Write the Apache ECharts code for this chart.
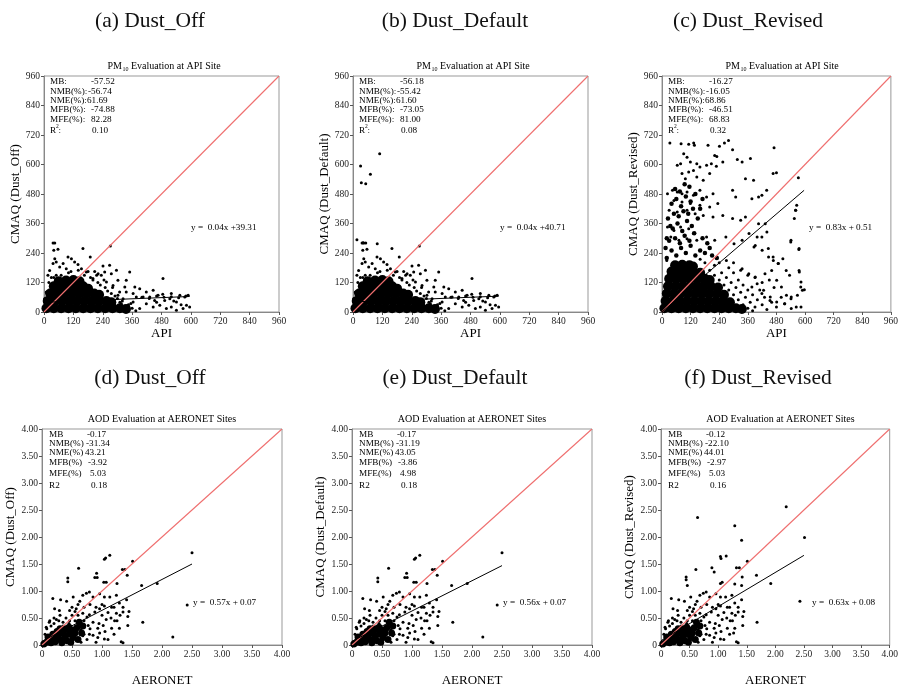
<!DOCTYPE html>
<html>
<head>
<meta charset="utf-8">
<title>Dust evaluation</title>
<script src="https://cdn.jsdelivr.net/npm/echarts@6/dist/echarts.min.js"></script>
<style>
  html, body { margin: 0; padding: 0; background: #fff; }
  #main { width: 901px; height: 688px; }
</style>
</head>
<body>
<div id="main"></div>
<script>
// ---------- data ----------
var pmOffCore = [
  [10,15],[40,15],[70,15],[100,15],[130,15],[160,15],[190,15],[220,15],[250,15],[280,15],[310,15],[335,12],
  [15,45],[45,45],[75,45],[105,45],[135,45],[165,45],[195,45],[225,45],[255,45],[275,40],
  [25,75],[55,75],[85,75],[115,75],[145,75],[175,75],[205,75],[225,70],
  [40,105],[70,105],[100,105],[130,105],[160,105],[180,95],
  [60,125],[90,128],[120,130],[145,125]
];
var pmOffPts = [
  [37,281],[44,281],[40,251],[57,255],[159,258],[271,268],[189,224],[98,224],[112,217],
  [44,217],[37,197],[50,203],[78,197],[125,203],[139,193],[64,183],[91,176],[153,176],
  [173,163],[207,165],[241,187],[268,190],[296,170],[275,156],[234,149],[350,163],[486,136],
  [336,129],[371,102],[330,102],[302,129],[255,122],[391,95],[418,81],[446,88],[466,68],
  [520,75],[555,68],[575,61],[589,68],[582,27],[568,14],[520,20],[541,7],[500,14],[473,27],
  [446,20],[418,34],[391,14],[364,41],[405,61],[452,47],[493,47],[364,75],[336,81],[309,81],
  [323,54],[343,27],[377,61],[432,61],[595,20],[514,54],[541,41],[282,108],[302,68],[316,34],
  [289,27],[10,81],[3,54],[16,149],[23,169],[248,163],[221,156],[200,136],
  [20,120],[30,140],[50,150],[110,165],[165,150],[190,140],[220,120],[250,100],[275,75],
  [300,55],[320,45],[345,30],[360,15],[375,5],[330,5],[10,80],[5,40],[200,130],[230,110],
  [260,85],[290,65],[310,40],[340,10],[355,35],[280,100],[245,130],[215,150],[180,165],
  [140,170],[100,160],[70,150],[40,140],[400,60],[430,55],[460,65],[490,60],[520,62],
  [550,58],[580,65],[460,40],[485,72],[530,45],[560,30]
];
var pmDefaultExtra = [
  [109,644],[31,594],[71,560],[34,526],[52,522],[16,294],[99,278],[41,282],[52,281]
];
var pmRevCore = [
  [10,15],[40,15],[70,15],[100,15],[130,15],[160,15],[190,15],[220,15],[250,15],[280,15],[310,15],[335,12],
  [15,45],[45,45],[75,45],[105,45],[135,45],[165,45],[195,45],[225,45],[255,45],[285,40],
  [20,75],[50,75],[80,75],[110,75],[140,75],[170,75],[200,75],[230,75],[260,70],
  [25,105],[55,105],[85,105],[115,105],[145,105],[175,105],[205,105],[235,100],
  [30,135],[60,135],[90,135],[120,135],[150,135],[180,135],[200,130],
  [40,165],[70,165],[100,165],[130,165],[160,160],
  [55,190],[85,192],[115,190],[130,185]
];
var pmRevMid = [
  [20,220],[40,250],[60,230],[80,260],[100,240],[120,270],[140,230],[30,290],[55,300],[75,280],
  [95,310],[115,290],[135,320],[45,340],[65,360],[85,330],[105,370],[125,350],[25,380],[50,400],
  [70,390],[90,410],[110,400],[130,420],[40,440],[60,460],[80,430],[100,470],[120,450],[55,500],
  [75,490],[95,520],[115,510],[160,250],[180,240],[200,260],[170,300],[190,280],[210,230],[230,220],
  [150,380],[160,420],[140,480],[170,460],[20,300],[35,350],[15,260]
];
var pmRevPts = [
  [33,687],[80,684],[112,682],[133,687],[136,678],[193,678],[241,674],[262,687],[279,698],[221,637],
  [230,633],[296,660],[371,624],[470,668],[316,620],[336,610],[91,644],[105,630],[64,597],[78,603],
  [119,610],[146,603],[159,590],[187,597],[207,603],[228,593],[255,610],[132,576],[112,569],[84,563],
  [98,542],[146,549],[173,536],[200,563],[350,542],[384,536],[466,563],[480,566],[572,546],
  [23,481],[44,495],[64,488],[84,481],[105,488],[132,475],[159,495],[187,468],[214,481],[296,495],
  [309,468],[377,461],[405,468],[419,475],[439,495],[50,454],[84,447],[119,441],[159,434],[200,427],
  [234,441],[30,414],[64,407],[105,414],[139,400],[173,393],[214,386],[255,393],[296,380],[330,373],
  [350,386],[405,359],[561,414],[555,380],[575,258],[541,292],[23,346],[50,332],[78,346],[112,339],
  [132,319],[37,305],[71,292],[105,298],[146,292],[187,305],[221,292],[268,305],[302,278],[336,292],
  [391,271],[419,305],[446,258],[466,224],[507,217],[487,197],[521,169],[535,149],[575,169],[582,102],
  [589,88],[568,68],[541,54],[514,34],[453,47],[419,75],[377,102],[391,142],[432,156],[460,169],
  [364,156],[336,176],[540,285],[560,414],[565,434],[574,254],[576,163],[583,122],[597,91],[542,61],
  [515,34],[481,41],[454,61],[426,88],[399,115],[467,210],[488,197],[447,224],[420,251],[386,264],
  [365,319],[399,305],[433,359],[440,325],[481,129],[501,102],[522,68],[563,20],[542,14],[583,20],
  [200,170],[220,150],[240,130],[260,110],[280,90],[300,70],[320,50],[340,30],[360,15],[380,5],
  [250,160],[270,140],[290,120],[310,100],[330,80],[350,60],[370,40],[390,20],[280,180],[300,160],
  [320,130],[340,110],[360,90],[380,70],[400,50],[420,30],[440,10],[410,90],[430,60],[460,40],
  [480,20],[500,60],[470,100],[450,130],[420,120],[390,140],[360,150],[330,170],[300,200],[270,210],
  [240,200],[220,190],[20,210],[180,200],[160,215]
];
var aodCore = [
  [0.03,0.02],[0.08,0.05],[0.12,0.1],[0.15,0.04],[0.2,0.12],[0.22,0.06],[0.27,0.18],[0.3,0.1],
  [0.33,0.04],[0.35,0.22],[0.38,0.14],[0.42,0.08],[0.45,0.2],[0.5,0.28],[0.52,0.14],[0.18,0.2],
  [0.25,0.25],[0.1,0.15],[0.4,0.3],[0.55,0.22],[0.6,0.1],[0.48,0.05],
  [0.58,0.32],[0.62,0.42],[0.68,0.35],[0.45,0.33],[0.3,0.3],[0.66,0.22]
];
var aodPts = [
  [0.18,0.86],[0.31,0.84],[0.41,0.81],[0.52,0.89],[0.63,0.81],[0.68,0.92],[0.74,0.96],[0.79,0.98],
  [0.85,0.89],[0.96,0.95],[1.04,0.89],[1.13,0.89],[1.24,0.92],[1.41,0.84],[1.29,0.78],[0.21,0.67],
  [0.29,0.64],[0.46,0.64],[0.57,0.67],[0.68,0.59],[0.79,0.56],[0.88,0.61],[0.96,0.67],[1.04,0.72],
  [1.16,0.70],[1.24,0.59],[1.35,0.61],[1.43,0.53],[0.07,0.33],[0.13,0.45],[0.24,0.47],[0.35,0.42],
  [0.46,0.45],[0.63,0.39],[0.77,0.36],[0.85,0.42],[0.93,0.31],[1.02,0.36],[1.07,0.47],[1.16,0.31],
  [1.21,0.45],[1.29,0.31],[0.79,0.20],[0.93,0.14],[1.04,0.11],[0.96,0.22],[0.68,0.17],[0.57,0.22],
  [0.05,0.2],[0.08,0.3],[0.15,0.35],[0.2,0.4],[0.28,0.45],[0.35,0.35],[0.45,0.4],[0.55,0.45],
  [0.6,0.35],[0.65,0.28],[0.7,0.2],[0.75,0.1],[0.65,0.05],[0.8,0.3],[0.85,0.18],[0.9,0.05],
  [0.7,0.45],[0.75,0.52],[0.6,0.55],[0.5,0.55],[0.4,0.5],[0.3,0.55],[0.2,0.5],[0.12,0.42],
  [0.95,0.4],[1.0,0.55],[1.1,0.6],[1.2,0.7],[1.0,0.75],[0.9,0.7],[0.8,0.75],[0.7,0.7],
  [0.6,0.75],[0.5,0.7],[0.55,0.62],[1.05,0.25],[1.15,0.5],[1.25,0.45],[1.35,0.7],[1.45,0.62],
  [1.3,0.55],[1.2,0.2],[1.1,0.1],[1.68,0.42],[1.43,0.36],[1.35,0.04],[1.32,0.06]
];
var aodOffOut = [
  [1.13,1.66],[1.04,1.59],[1.06,1.61],[1.51,1.55],[0.61,1.42],[0.43,1.24],[0.43,1.17],[0.91,1.33],
  [0.88,1.25],[0.92,1.25],[1.34,1.40],[1.38,1.40],[1.42,1.29],[1.03,1.16],[1.07,1.16],[1.25,1.14],
  [1.66,1.10],[1.92,1.14],[2.18,0.15],[2.50,1.71],[2.42,0.74]
];
var aodRevOut = [
  [2.19,2.56],[0.64,2.36],[1.29,2.21],[1.41,1.94],[2.51,1.99],[1.92,1.14],[2.43,0.81],[1.67,1.29],
  [1.51,1.55],[1.04,1.64],[1.05,1.60],[1.14,1.65],[0.89,1.43],[0.93,1.35],[0.44,1.26],[0.44,1.21],
  [0.46,1.10],[0.61,1.40],[1.32,1.43],[1.37,1.43],[1.42,1.26],[1.29,1.13],[1.41,1.10],[1.07,1.16],
  [1.04,1.14],[1.27,0.22]
];
var fitLines = [
  [[0,39.3],[595,63.1]],
  [[0,40.7],[595,64.5]],
  [[0,0.5],[596,495]],
  [[0,0.07],[2.5,1.50]],
  [[0,0.07],[2.5,1.47]],
  [[0,0.08],[2.5,1.66]]
];
var captions = ['(a) Dust_Off', '(b) Dust_Default', '(c) Dust_Revised',
                '(d) Dust_Off', '(e) Dust_Default', '(f) Dust_Revised'];
var yNames = ['CMAQ (Dust_Off)', 'CMAQ (Dust_Default)', 'CMAQ (Dust_Revised)',
              'CMAQ (Dust_Off)', 'CMAQ (Dust_Default)', 'CMAQ (Dust_Revised)'];
var fitText = ['y =  0.04x +39.31', 'y =  0.04x +40.71', 'y =  0.83x + 0.51',
               'y =  0.57x + 0.07', 'y =  0.56x + 0.07', 'y =  0.63x + 0.08'];
var pmStatLabels = ['MB:', 'NMB(%):', 'NME(%):', 'MFB(%):', 'MFE(%):', 'R :'];
var aodStatLabels = ['MB', 'NMB(%)', 'NME(%)', 'MFB(%)', 'MFE(%)', 'R2'];
var statValues = [
  ['-57.52', '-56.74', '61.69', '-74.88', '82.28', '0.10'],
  ['-56.18', '-55.42', '61.60', '-73.05', '81.00', '0.08'],
  ['-16.27', '-16.05', '68.86', '-46.51', '68.83', '0.32'],
  ['-0.17', '-31.34', '43.21', '-3.92', '5.03', '0.18'],
  ['-0.17', '-31.19', '43.05', '-3.86', '4.98', '0.18'],
  ['-0.12', '-22.10', '44.01', '-2.97', '5.03', '0.16']
];

// ---------- layout ----------
var serif = '"Liberation Serif", "Times New Roman", serif';
var grids = [
  {left: 44, top: 76, width: 235, height: 236},
  {left: 353, top: 76, width: 235, height: 236},
  {left: 662, top: 76, width: 235, height: 236},
  {left: 42, top: 429, width: 240, height: 239},
  {left: 352, top: 429, width: 240, height: 239},
  {left: 661, top: 429, width: 239, height: 239}
];
var captionX = [150, 455, 748, 150, 455, 758];

function axis(i, isX) {
  var pm = i < 3;
  return {
    gridIndex: i,
    type: 'value',
    min: 0,
    max: pm ? 960 : 4,
    interval: pm ? 120 : 0.5,
    name: isX ? (pm ? 'API' : 'AERONET') : yNames[i],
    nameLocation: 'middle',
    nameGap: isX ? (pm ? 12 : 29) : (pm ? 20 : 19),
    nameTextStyle: {fontFamily: serif, fontSize: 13, color: '#000'},
    axisLine: {show: true, lineStyle: {color: '#888', width: 1}},
    axisTick: {show: true, length: 3, lineStyle: {color: '#555'}},
    splitLine: {show: false},
    axisLabel: {
      fontFamily: serif, fontSize: 9.5, color: '#222', margin: 4,
      formatter: pm ? '{value}' : function (v) { return v === 0 ? '0' : Number(v).toFixed(2); }
    }
  };
}

function dots(i, data, size) {
  return {
    type: 'scatter', xAxisIndex: i, yAxisIndex: i, data: data,
    symbolSize: size, itemStyle: {color: '#000', opacity: 1}, silent: true
  };
}

function buildOption() {
  var gridOpts = [], xAxes = [], yAxes = [], series = [], graphics = [];
  var fs = '9.2px ' + serif;
  for (var i = 0; i < 6; i++) {
    var pm = i < 3;
    var g = grids[i];
    var lim = pm ? 960 : 4;
    gridOpts.push({left: g.left, top: g.top, width: g.width, height: g.height,
                   show: true, borderColor: '#999', borderWidth: 1});
    xAxes.push(axis(i, true));
    yAxes.push(axis(i, false));

    var core, pts;
    if (i === 0) { core = pmOffCore; pts = pmOffPts; }
    else if (i === 1) { core = pmOffCore; pts = pmOffPts.concat(pmDefaultExtra); }
    else if (i === 2) { core = pmRevCore; pts = pmRevPts; }
    else if (i === 5) { core = aodCore; pts = aodPts.concat(aodRevOut); }
    else { core = aodCore; pts = aodPts.concat(aodOffOut); }

    series.push(dots(i, core.slice(), pm ? 10 : 7));
    if (i === 2) series.push(dots(i, pmRevMid.slice(), 4.5));
    series.push(dots(i, pts, 3));
    series.push({
      type: 'line', xAxisIndex: i, yAxisIndex: i, data: [[0, 0], [lim, lim]],
      symbol: 'none', lineStyle: {color: '#ef6f6f', width: 1.1}, z: 5, silent: true
    });
    series.push({
      type: 'line', xAxisIndex: i, yAxisIndex: i, data: fitLines[i].slice(),
      symbol: 'none', lineStyle: {color: '#000', width: 1}, z: 5, silent: true
    });

    // caption above each panel
    graphics.push({
      type: 'text', x: captionX[i], y: pm ? 21 : 378,
      style: {text: captions[i], font: '21.5px ' + serif, fill: '#111',
              textAlign: 'center', textVerticalAlign: 'middle'}
    });
    // small title above plot box
    var tcx = g.left + g.width / 2;
    if (pm) {
      graphics.push({type: 'text', x: tcx - 54, y: g.top - 10,
        style: {text: 'PM', font: '10px ' + serif, fill: '#000', textVerticalAlign: 'middle'}});
      graphics.push({type: 'text', x: tcx - 39, y: g.top - 7,
        style: {text: '10', font: '6px ' + serif, fill: '#000', textVerticalAlign: 'middle'}});
      graphics.push({type: 'text', x: tcx - 33, y: g.top - 10,
        style: {text: ' Evaluation at API Site', font: '10px ' + serif, fill: '#000', textVerticalAlign: 'middle'}});
    } else {
      graphics.push({type: 'text', x: tcx, y: g.top - 10,
        style: {text: 'AOD Evaluation at AERONET Sites', font: '10px ' + serif, fill: '#000',
                textAlign: 'center', textVerticalAlign: 'middle'}});
    }
    // statistics block
    var labels = pm ? pmStatLabels : aodStatLabels;
    var valOff = pm ? [47, 44, 43, 47, 47, 48] : [45, 44, 43, 46, 48, 49];
    var rowY = pm ? [82, 92, 101, 110, 120, 131] : [435, 444, 453, 463, 474, 486];
    for (var k = 0; k < 6; k++) {
      graphics.push({
        type: 'text', x: g.left + (pm ? 6 : 7), y: rowY[k],
        style: {text: labels[k], font: fs, fill: '#000', textVerticalAlign: 'middle'}
      });
      graphics.push({
        type: 'text', x: g.left + valOff[k], y: rowY[k],
        style: {text: statValues[i][k], font: fs, fill: '#000', textVerticalAlign: 'middle'}
      });
    }
    if (pm) {
      graphics.push({type: 'text', x: g.left + 12, y: rowY[5] - 4,
        style: {text: '2', font: '5.5px ' + serif, fill: '#000', textVerticalAlign: 'middle'}});
    }
    // regression equation
    graphics.push({
      type: 'text', x: g.left + (pm ? 147 : 151), y: pm ? 228 : 603,
      style: {text: fitText[i], font: fs, fill: '#000', textVerticalAlign: 'middle'}
    });
  }
  return {
    animation: false,
    backgroundColor: '#fff',
    grid: gridOpts,
    xAxis: xAxes,
    yAxis: yAxes,
    series: series,
    graphic: {elements: graphics}
  };
}

var chart = echarts.init(document.getElementById('main'));
chart.setOption(buildOption());
</script>
</body>
</html>
